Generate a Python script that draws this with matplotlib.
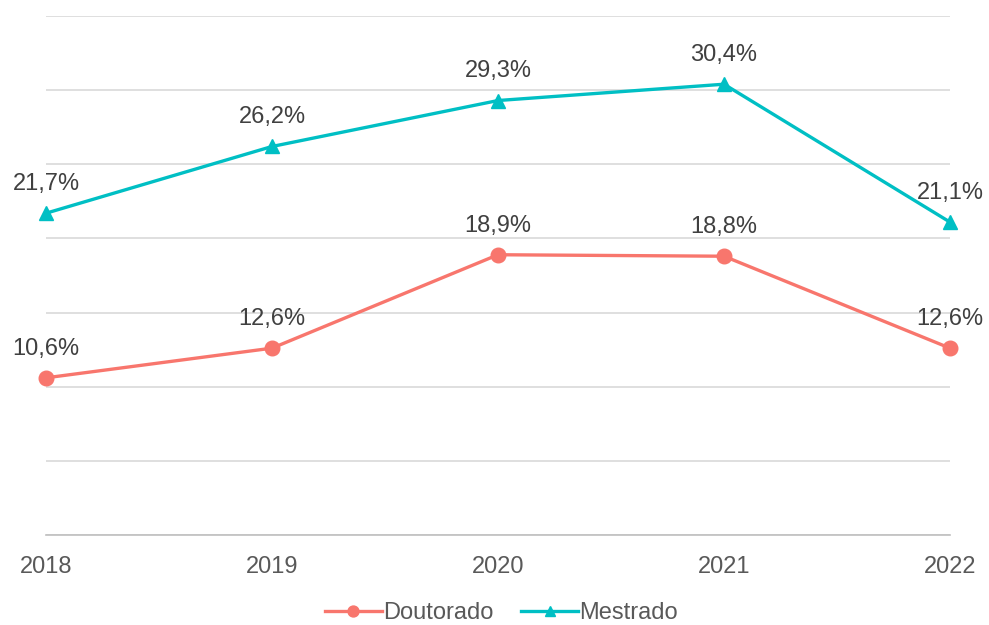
import matplotlib
matplotlib.use("Agg")
import matplotlib.pyplot as plt

plt.rcParams['font.family'] = ['Liberation Sans', 'DejaVu Sans']

# ── data ──
years = [2018, 2019, 2020, 2021, 2022]
doutorado = [10.6, 12.6, 18.9, 18.8, 12.6]
mestrado = [21.7, 26.2, 29.3, 30.4, 21.1]

RED = "#F8766D"
TEAL = "#00BFC4"
FS = 17

fig = plt.figure(figsize=(9.89, 6.25), dpi=100)
ax = fig.add_axes([46 / 989, (625 - 535) / 625, (950 - 46) / 989, (535 - 16) / 625])

ax.plot(years, doutorado, color=RED, lw=2.4, marker="o", ms=10.5,
        label="Doutorado", clip_on=False, zorder=3)
ax.plot(years, mestrado, color=TEAL, lw=2.4, marker="^", ms=9.5,
        label="Mestrado", clip_on=False, zorder=3)

def fmt(v):
    return f"{v:.1f}".replace(".", ",") + "%"

for series in (doutorado, mestrado):
    for x, v in zip(years, series):
        ax.annotate(fmt(v), (x, v), xytext=(0, 21), textcoords="offset points",
                    ha="center", va="center", fontsize=FS, color="#404040",
                    annotation_clip=False)

ax.set_xlim(2018, 2022)
ax.set_ylim(0, 35)
ax.set_yticks(range(0, 36, 5))
ax.set_yticklabels([])
ax.set_xticks(years)
ax.set_xticklabels([str(y) for y in years], fontsize=FS, color="#595959")
ax.tick_params(axis="both", length=0)
ax.tick_params(axis="x", pad=15)
ax.grid(axis="y", color="#d9d9d9", lw=1.2)
ax.set_axisbelow(True)
for s in ("top", "right", "left"):
    ax.spines[s].set_visible(False)
ax.spines["bottom"].set_color("#bfbfbf")
ax.spines["bottom"].set_linewidth(1.2)

fig.legend(loc="center", bbox_to_anchor=(0.507, (625 - 613) / 625), ncol=2,
           frameon=False, fontsize=FS, handlelength=2.4, handletextpad=0.05,
           columnspacing=1.2, labelcolor="#595959", markerscale=0.75)

fig.savefig("out.png", dpi=100)
